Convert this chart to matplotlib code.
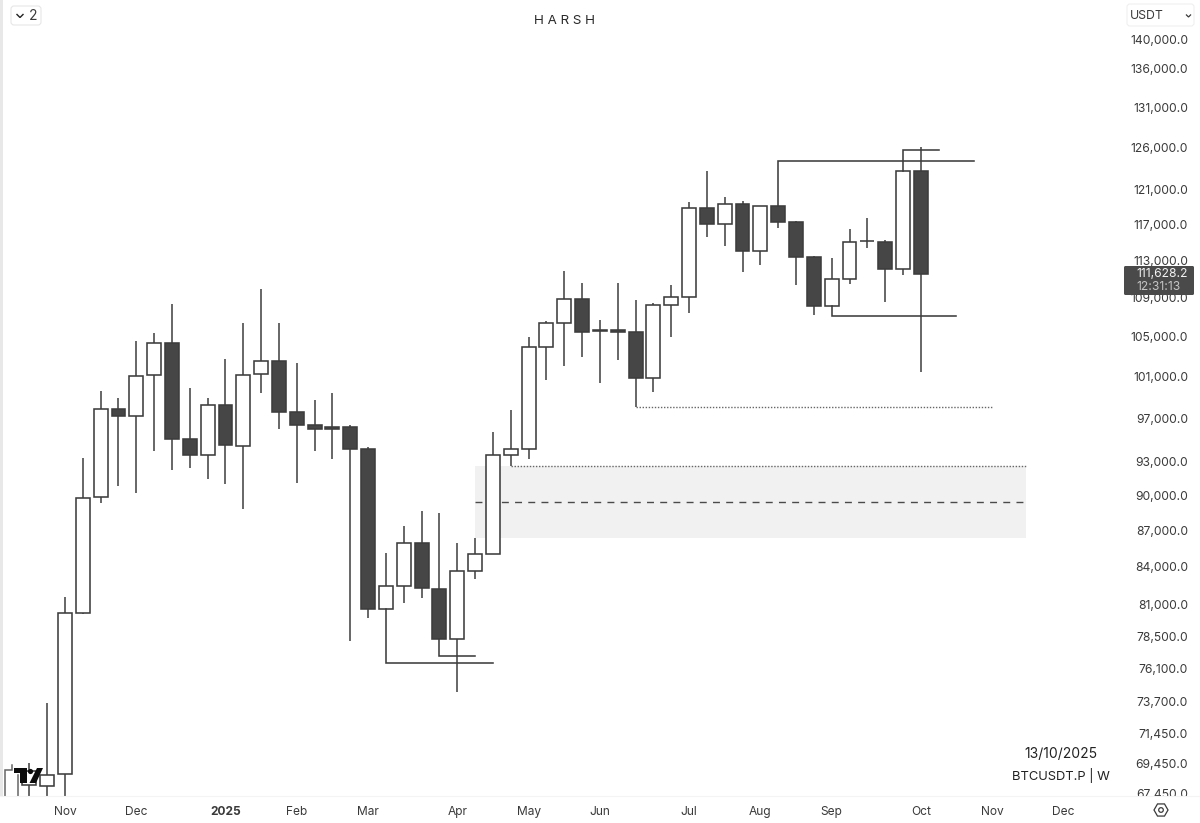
import numpy as np
import matplotlib
matplotlib.use("Agg")
import matplotlib.pyplot as plt
from matplotlib.patches import FancyBboxPatch, Polygon, Circle, Rectangle
from matplotlib.transforms import Affine2D

plt.rcParams['font.family'] = ['Inter', 'DejaVu Sans']

# velas semanales, la semana 0 es la del label Nov
semanas = list(range(-2, 49))
aperturas = [68015, 67949, 68746, 80335, 89869, 97870, 97217, 101157, 104322, 95070, 93601, 98243, 94419,
             101255, 102528, 97590, 96330, 96190, 96190, 94139, 80643, 82464, 85962, 82222, 78337, 83675,
             85046, 93601, 94139, 103914, 106378, 108851, 105500, 105600, 105453, 100863, 108229, 109065,
             118890, 117079, 119343, 114028, 119117, 117306, 113381, 108126, 111007, 115130, 115041, 112086, 123242]
cierres = [68946, 68680, 80335, 89780, 97870, 97217, 101059, 104322, 95070, 93601, 98243, 94513, 101157,
           102528, 97590, 96377, 96003, 96003, 94139, 80643, 82464, 85962, 82303, 78337, 83675, 85046,
           93601, 94139, 103914, 106378, 108851, 105453, 105600, 105400, 100863, 108229, 109065, 118890,
           117079, 119343, 114028, 119117, 117306, 113381, 108126, 111007, 115041, 115180, 112086, 123242, 111546]
maximos = [69478, 73611, 81577, 93335, 99590, 98906, 104528, 105350, 108332, 99884, 98906, 102724, 106378,
           109928, 106378, 102332, 98710, 99395, 96377, 94326, 85127, 87400, 88670, 88501, 85962, 86385,
           95723, 97777, 104939, 106584, 111870, 110575, 106687, 110575, 108743, 108434, 110360, 119570,
           123242, 120153, 119683, 119117, 119117, 117418, 113489, 113273, 116513, 117758, 115267, 123242, 126097]
minimos = [66500, 66500, 66500, 80258, 89348, 90846, 90224, 93957, 92268, 92446, 91468, 91023, 88840,
           99395, 96003, 91112, 93957, 93246, 78184, 79951, 80643, 81104, 81496, 78337, 74417, 83029,
           85046, 92624, 93246, 100667, 102038, 102920, 100373, 102626, 98057, 99493, 104939, 107407,
           115607, 114588, 111762, 112518, 116626, 110360, 107201, 108126, 110467, 114362, 108537, 111438, 101451]

# restos de velas detras del logo
resto1_x = [-3.38, -3.38, -2.97, -2.97]
resto1_y = [66500, 69012, 69012, 69345]
resto2_x = [-2.65, -2.65]
resto2_y = [66500, 68680]

# lineas dibujadas a mano: sale de la vela y corre en horizontal
lineas_ini = [18, 21, 40, 47, 43]
lineas_fin = [24, 23, 51, 49, 50]
lineas_desde = [80643, 78337, 119117, 123242, 108126]
lineas_nivel = [76540, 77053, 124430, 125740, 107098]

# zona gris y niveles punteados
zona_ini, zona_fin = 23, 53.9
zona_baja, zona_media, zona_alta = 86385, 89466, 92624
punteado_ini = [32, 25]
punteado_fin = [52, 53.9]
punteado_nivel = [98057, 92624]

precios = [140000, 136000, 131000, 126000, 121000, 117000, 113000, 109000, 105000, 101000, 97000,
           93000, 90000, 87000, 84000, 81000, 78500, 76100, 73700, 71450, 69450, 67450]
etiquetas_precio = [f"{p:,.1f}" for p in precios]
meses_pos = [0, 4, 9, 13, 17, 22, 26, 30, 35, 39, 43, 48, 52, 56]
meses = ["Nov", "Dec", "2025", "Feb", "Mar", "Apr", "May", "Jun", "Jul", "Aug", "Sep", "Oct", "Nov", "Dec"]

W, H = 1200, 823
OSCURO = "#3d3d3d"
CUERPO = "#464646"
TEXTO = "#3a3a3a"

fig = plt.figure(figsize=(W / 100, H / 100), dpi=100, facecolor="white")
# para la interfaz uso coordenadas de pixel
px = Affine2D().scale(1 / W, -1 / H).translate(0, 1) + fig.transFigure

izq, der, abajo = 3, 1122, 796
ax = fig.add_axes([izq / W, 1 - abajo / H, (der - izq) / W, abajo / H], zorder=1)
ax.set_facecolor("white")
ax.set_xlim((izq - 65) / 17.83, (der - 65) / 17.83)
ax.set_yscale("log")
ax.set_ylim(67285, 145387)
for s in ax.spines.values():
    s.set_visible(False)

# zona gris
ax.fill_between([zona_ini, zona_fin], zona_baja, zona_alta, color="#f1f1f1", lw=0, zorder=1)
ax.plot([zona_ini, zona_fin], [zona_media, zona_media], color="#4a4a4a", lw=1.0, ls=(0, (5, 4.5)), zorder=2)
for a, b, n in zip(punteado_ini, punteado_fin, punteado_nivel):
    ax.plot([a, b], [n, n], color="#666666", lw=1.0, ls=(0, (1, 1.2)), zorder=2)

# velas
sem = np.array(semanas)
ap = np.array(aperturas)
ci = np.array(cierres)
sube = ci >= ap
ax.vlines(sem, minimos, maximos, color=OSCURO, lw=1.1, zorder=2)
ax.plot(resto1_x, resto1_y, color="#666666", lw=1.1, zorder=2, solid_joinstyle="miter")
ax.plot(resto2_x, resto2_y, color="#666666", lw=1.1, zorder=2)
ax.bar(sem, np.abs(ci - ap), bottom=np.minimum(ap, ci), width=0.78,
       color=["white" if u else CUERPO for u in sube], edgecolor=OSCURO, linewidth=1.15, zorder=3)

# lineas dibujadas
for a, b, d, n in zip(lineas_ini, lineas_fin, lineas_desde, lineas_nivel):
    ax.plot([a, a, b], [d, n, n], color=OSCURO, lw=1.15, zorder=4, solid_joinstyle="miter")

# eje de precios
ax.yaxis.tick_right()
ax.set_yticks(precios)
ax.set_yticklabels(etiquetas_precio)
ax.set_yticks([], minor=True)
ax.tick_params(axis="y", length=0, pad=47.5, labelsize=8.7, labelcolor=TEXTO)
for t in ax.get_yticklabels():
    t.set_ha("right")
ax.set_xticks([])

# tira del eje de tiempo, tapa la etiqueta de abajo
ax_t = fig.add_axes([0, 0, 1, (H - abajo) / H], zorder=3)
ax_t.set_facecolor("white")
ax_t.set_xlim((0 - 65) / 17.83, (W - 65) / 17.83)
ax_t.set_ylim(0, 1)
ax_t.set_yticks([])
for s in ax_t.spines.values():
    s.set_visible(False)
ax_t.spines["top"].set_visible(True)
ax_t.spines["top"].set_color("#f4f4f4")
ax_t.set_xticks(meses_pos)
ax_t.set_xticklabels(meses)
ax_t.tick_params(axis="x", length=0, pad=-12, labelsize=8.6, labelcolor=TEXTO)
ax_t.get_xticklabels()[2].set_fontweight("bold")

# interfaz, encima de todo
def agrega(p):
    p.set_transform(px)
    p.set_zorder(10)
    fig.add_artist(p)

def texto(x, y, s, **kw):
    kw.setdefault("color", TEXTO)
    kw.setdefault("va", "center")
    t = fig.text(x, y, s, transform=px, zorder=11, **kw)
    return t

agrega(Rectangle((0, 0), 3, 796, fc="#e8e8e8", ec="none"))

texto(564, 21, "H A R S H", ha="center", fontsize=9.6, color="#2a2a2a")
texto(1060.5, 754, "13/10/2025", ha="center", fontsize=10, color="#222222")
texto(1060.5, 776, "BTCUSDT.P | W", ha="center", fontsize=9.3, color="#222222")

# boton 2
agrega(FancyBboxPatch((11, 6), 30, 19, boxstyle="round,pad=0,rounding_size=3", fc="white", ec="#e6e6e6", lw=0.8))
agrega(Polygon([(16.5, 14), (20, 17.5), (23.5, 14)], closed=False, fill=False, ec="#222222", lw=1.0))
texto(33.5, 16.5, "2", ha="center", fontsize=10)

# boton USDT
agrega(FancyBboxPatch((1127, 4), 67, 22, boxstyle="round,pad=0,rounding_size=3", fc="white", ec="#f0f0f0", lw=0.8))
texto(1130, 16, "USDT", ha="left", fontsize=8.8)
agrega(Polygon([(1186, 14.5), (1188.5, 17), (1191, 14.5)], closed=False, fill=False, ec=TEXTO, lw=0.9))

# etiqueta de ultimo precio
agrega(FancyBboxPatch((1124, 266), 70, 29, boxstyle="round,pad=0,rounding_size=1.5", fc="#4a4a4a", ec="none"))
texto(1188, 274, "111,628.2", ha="right", fontsize=8.7, color="#f2f2f2")
texto(1181, 287, "12:31:13", ha="right", fontsize=8.7, color="#c4c4c4")

# logo
agrega(Polygon([(14, 768), (26.5, 768), (26.5, 783), (19.5, 783), (19.5, 773), (14, 773)], fc="#0c0c0c", ec="none"))
agrega(Circle((30.5, 771.5), 2.6, fc="#0c0c0c", ec="none"))
agrega(Polygon([(37, 768), (43, 768), (36, 783), (29.5, 783)], fc="#0c0c0c", ec="none"))

# engranaje
angulos = np.deg2rad(np.arange(0, 360, 60))
agrega(Polygon(np.c_[1161 + 7 * np.cos(angulos), 810 + 7 * np.sin(angulos)], fill=False, ec=TEXTO, lw=0.9))
agrega(Circle((1161, 810), 2.3, fill=False, ec=TEXTO, lw=0.9))

fig.savefig("out.png", dpi=100)
